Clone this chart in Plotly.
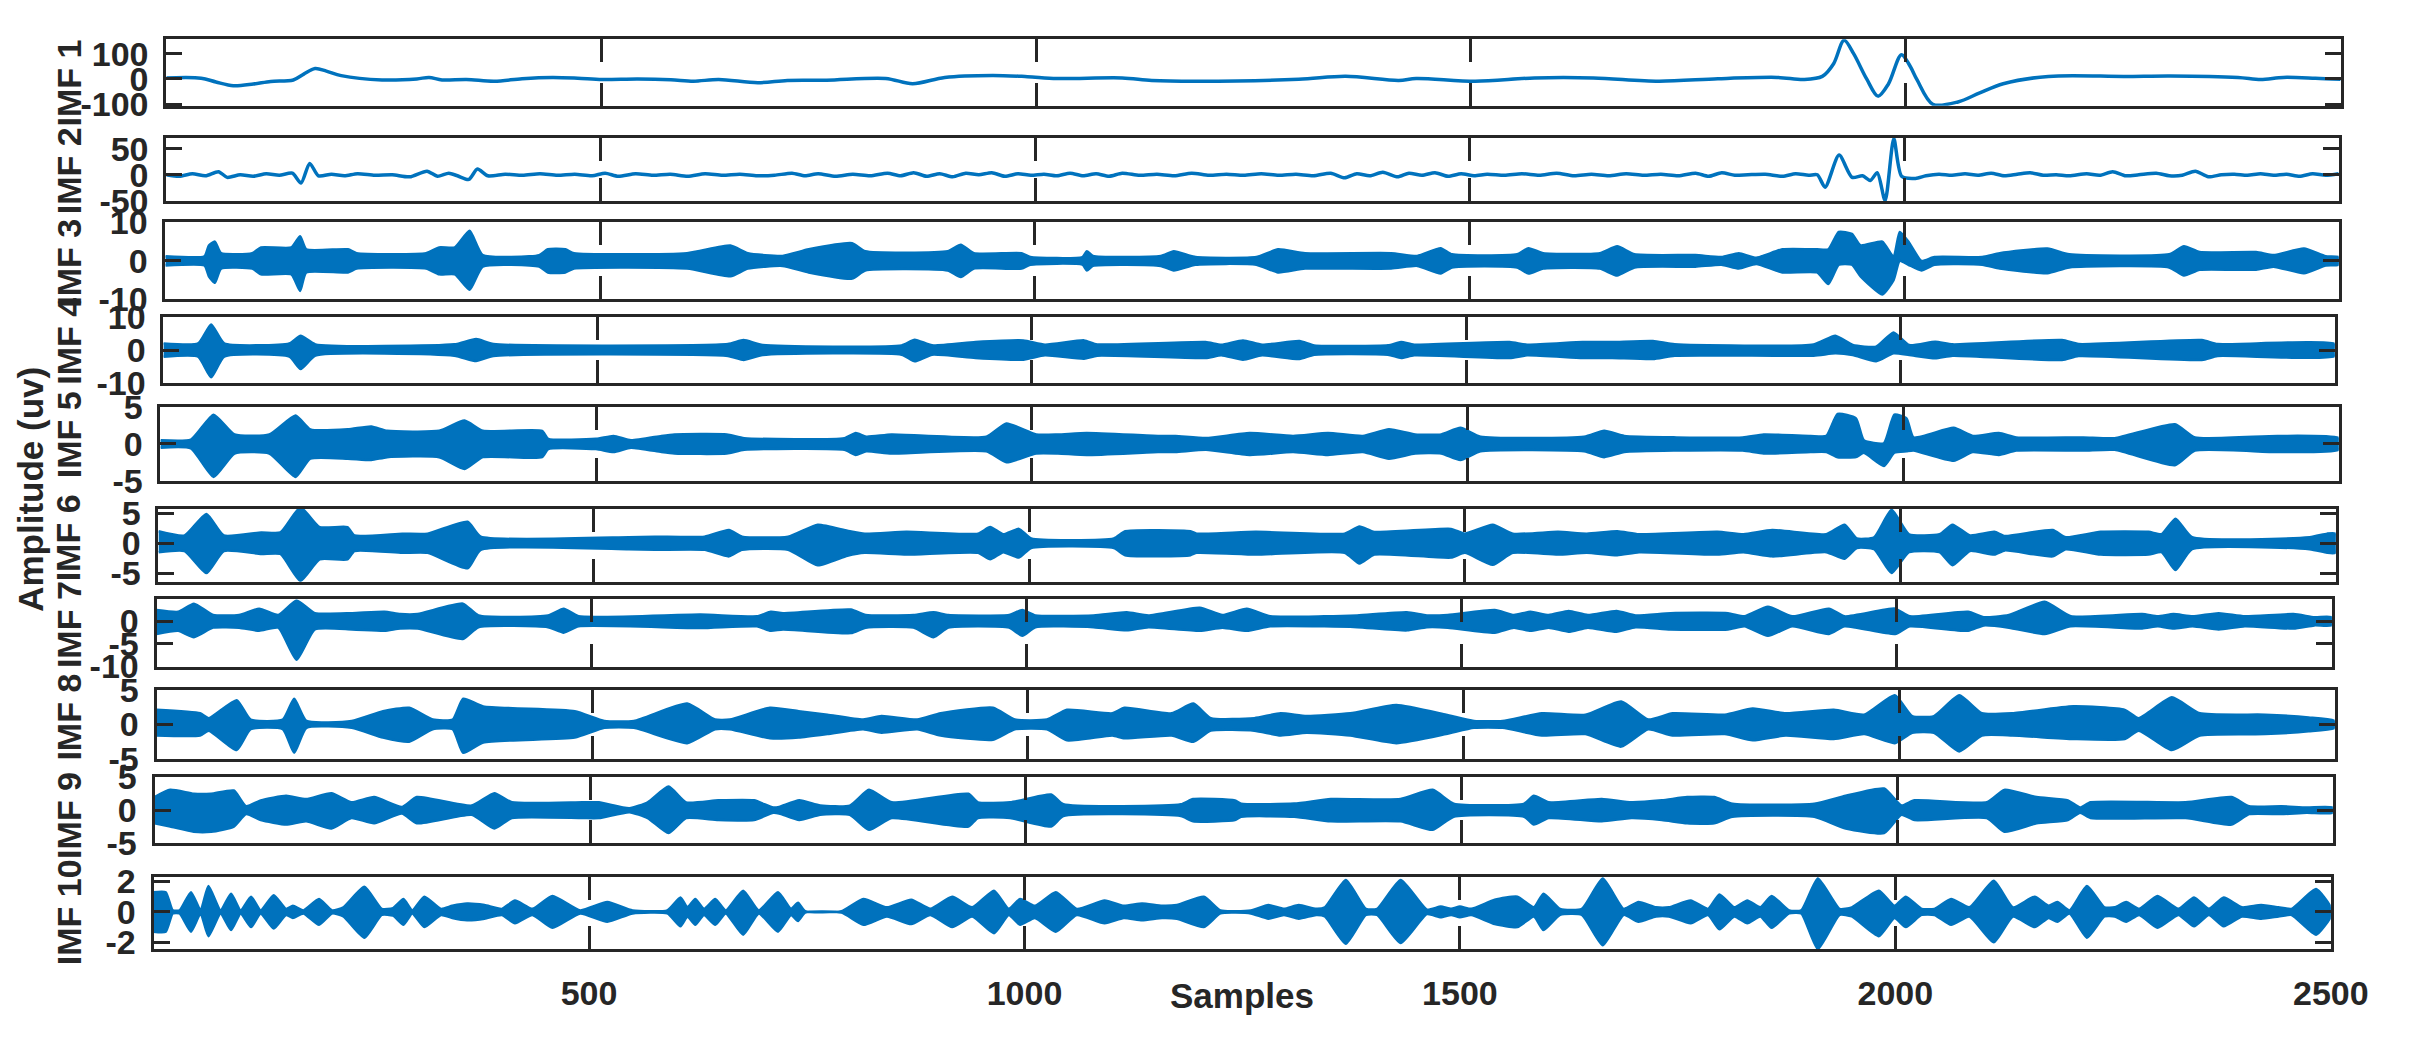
import plotly.graph_objects as go

# ---------------- data ----------------
imf1_s = [0, 40, 57, 77, 100, 120, 146, 158, 171, 184, 201, 248, 288, 302, 317, 345, 377, 409, 444, 473,
          501, 542, 580, 606, 635, 680, 714, 759, 827, 858, 895, 950, 990, 1024, 1099, 1133, 1187, 1302,
          1356, 1417, 1437, 1505, 1573, 1641, 1716, 1784, 1852, 1883, 1904, 1917, 1929, 1940, 1955, 1968,
          1980, 1995, 2005, 2013, 2031, 2060, 2085, 2112, 2164, 2252, 2304, 2382, 2408, 2434, 2471, 2500]
imf1_v = [4, 3, -12, -27, -20, -10, -4, 19, 41, 31, 13, -4, 0, 6, -4, -2, -9, 1, 6, 3,
          -2, 0, -3, -9, -2, -15, -6, -5, 2, -19, 6, 14, 9, 2, 4, -6, -9, -1,
          11, -6, 2, -9, 4, 4, -9, 1, 6, -2, 10, 60, 153, 100, 0, -68,
          -20, 96, 50, -4, -100, -91, -55, -19, 10, 10, 12, 6, -2, 6, 3, -1]

imf2_s = [0, 15, 30, 45, 60, 70, 85, 100, 115, 130, 145, 155, 165, 175, 190, 205, 220, 240, 260, 280,
          300, 312, 325, 335, 348, 358, 370, 390, 410, 430, 450, 470, 490, 505, 520, 540, 560, 580, 600,
          620, 640, 660, 680, 700, 720, 735, 750, 770, 790, 810, 830, 845, 860, 875, 890, 905, 920, 935,
          950, 965, 980, 995, 1010, 1025, 1040, 1055, 1070, 1085, 1100, 1120, 1140, 1160, 1180, 1200, 1220,
          1240, 1260, 1280, 1300, 1320, 1340, 1356, 1370, 1385, 1400, 1417, 1430, 1445, 1460, 1475, 1490,
          1505, 1520, 1540, 1560, 1580, 1600, 1620, 1640, 1660, 1680, 1700, 1720, 1740, 1760, 1775, 1790,
          1805, 1820, 1840, 1860, 1875, 1890, 1900, 1909, 1925, 1940, 1952, 1961, 1969, 1978, 1988, 1997,
          2013, 2025, 2040, 2055, 2070, 2085, 2100, 2115, 2130, 2145, 2160, 2175, 2190, 2210, 2225, 2240,
          2255, 2270, 2290, 2305, 2320, 2335, 2350, 2365, 2380, 2395, 2410, 2425, 2440, 2455, 2470, 2485, 2500]
imf2_v = [0, -3, 2, -2, 6, -5, 0, -3, 2, -1, 3, -16, 22, -2, 1, -2, 2, -1, 0, -4,
          7, -3, 3, -2, -9, 11, -2, 1, -1, 2, -1, 1, -2, 3, -3, 2, -1, 1, -3,
          2, -1, 1, -2, -1, 3, -2, 2, -3, 1, -2, 3, -2, 4, -3, 2, -4, 3, 0,
          4, -3, 2, -1, 1, -2, 3, -2, 2, -3, 3, -1, 1, -2, 3, -1, 1,
          -1, 2, -1, 1, -2, 3, -6, 2, -2, 5, -4, 3, -1, 4, -3, 2,
          -2, 1, -1, 2, -1, 3, -2, 1, -2, 2, -1, 1, -2, 3, -3, 4,
          -1, 0, 1, -3, 2, -1, 0, -24, 38, -5, -2, -11, 4, -50, 70, -3,
          -7, -2, 1, -1, 2, -1, 3, -2, 1, 4, -1, 0, -2, 2, -1, 6,
          -2, 0, 3, -2, -1, 7, -4, 0, 1, -1, 2, -1, 1, -3, 2, -1, 2]

imf3_s = [0, 45, 50, 57, 64, 100, 110, 145, 155, 162, 210, 220, 300, 315, 333, 350, 365, 430, 440, 460,
          470, 600, 650, 670, 710, 740, 790, 805, 900, 915, 930, 985, 995, 1055, 1060, 1067, 1145, 1160,
          1185, 1255, 1280, 1311, 1410, 1440, 1467, 1480, 1555, 1568, 1585, 1650, 1670, 1690, 1760, 1790,
          1810, 1830, 1860, 1900, 1913, 1925, 1940, 1950, 1975, 1988, 1995, 2005, 2020, 2035, 2090, 2110,
          2165, 2190, 2305, 2322, 2340, 2405, 2425, 2460, 2485, 2500]
imf3_hi = [1.2, 1.2, 4, 5, 2, 2, 3.5, 3.5, 6.4, 3, 3, 2, 2, 3.5, 3.5, 7.8, 1.5, 1.5, 3, 3,
           2, 2, 4, 2, 1.3, 3, 4.6, 2.5, 2.5, 4.2, 2, 2, 1, 1, 2.5, 1.3, 1.3, 2.5,
           1, 1, 3, 2, 2, 1.3, 3.3, 1.7, 1.7, 3.3, 2, 2, 3.8, 1.7, 1.5, 1,
           2, 0.8, 3, 3, 3, 7.5, 7, 4, 5, 1, 7.5, 5, 0, 1, 1, 2,
           3.2, 1.7, 1.7, 3.8, 2.3, 2.3, 1.5, 3.2, 1.2, 1]
imf3_lo = [-1.2, -1.2, -4, -5.7, -2, -2, -3.5, -3.5, -7.8, -3, -3, -2, -2, -3.5, -3.5, -7.5, -1.5, -1.5, -3, -3,
           -2, -2, -4, -2, -1.3, -3, -4.6, -2.5, -2.5, -4.2, -2, -2, -1, -1, -2.5, -1.3, -1.3, -2.5,
           -1, -1, -3, -2, -2, -1.3, -3.3, -1.7, -1.7, -3.3, -2, -2, -3.8, -1.7, -1.5, -1,
           -2, -0.8, -3, -3, -6, -1, -1, -4, -8.7, -5, 0, -1, -2.5, -1, -1, -2,
           -3.2, -1.7, -1.7, -3.8, -2.3, -2.3, -1.5, -3.2, -1.2, -1]

imf4_s = [0, 40, 55, 70, 145, 158, 175, 335, 360, 380, 650, 668, 690, 850, 865, 885, 935, 990, 1015, 1060,
          1075, 1200, 1218, 1243, 1265, 1308, 1325, 1410, 1425, 1440, 1550, 1570, 1634, 1668, 1715, 1740,
          1900, 1925, 1945, 1972, 1992, 2010, 2040, 2060, 2186, 2205, 2347, 2365, 2500]
imf4_hi = [2, 2, 7.7, 2, 2, 4.3, 1.7, 1.7, 3.3, 1.8, 1.8, 3, 1.5, 1.4, 3.1, 1.4, 2.4, 2.9, 1.6, 2.9,
           1.7, 2.4, 1.6, 2.9, 1.6, 2.7, 1.4, 1.4, 2.4, 1.6, 2.4, 1.6, 2.4, 2.4, 2.7, 1.7,
           1.7, 4.3, 1.5, 1, 5.3, 1.5, 2.5, 1.7, 3, 1.8, 3, 1.8, 1.8]
imf4_lo = [-2, -2, -8.2, -2, -2, -5.7, -1.7, -1.7, -3.3, -1.8, -1.8, -3, -1.5, -1.4, -3.4, -1.4, -2.4, -2.9, -1.6, -2.6,
           -1.7, -2.4, -1.6, -2.9, -1.6, -2.7, -1.4, -1.4, -2.4, -1.6, -2.4, -1.6, -2.4, -2.4, -2.7, -1.7,
           -1.7, -1.0, -1.5, -3.4, -1, -1.5, -2.5, -1.7, -3, -1.8, -3, -1.8, -1.8]

imf5_s = [0, 35, 61, 85, 125, 155, 172, 215, 242, 260, 320, 349, 370, 438, 445, 500, 520, 540, 575, 590,
          650, 670, 785, 798, 810, 839, 948, 971, 1005, 1030, 1063, 1145, 1165, 1200, 1250, 1300, 1340,
          1380, 1410, 1440, 1470, 1492, 1515, 1634, 1657, 1680, 1740, 1816, 1840, 1894, 1912, 1925, 1946,
          1955, 1978, 1990, 2004, 2012, 2058, 2080, 2110, 2130, 2207, 2243, 2312, 2335, 2430, 2500]
imf5_hi = [0.5, 0.6, 4.0, 1.3, 1.3, 3.9, 2, 2, 2.4, 1.8, 1.8, 3.2, 1.8, 1.8, 0.7, 0.7, 1.1, 0.5, 1.1, 1.3,
           1.3, 0.8, 0.8, 1.5, 1.0, 1.3, 1.0, 2.8, 1.3, 1.3, 1.5, 1.1, 1.1, 0.8, 1.5, 1.1, 1.5,
           1.1, 2.0, 1.3, 1.3, 2.2, 1.0, 1.0, 1.8, 1.1, 0.9, 0.9, 1.3, 1.1, 1.1, 4.1, 3.5,
           0.5, 0.1, 4.0, 3.5, 0.9, 2.2, 1.1, 1.5, 0.9, 0.9, 0.8, 2.7, 0.9, 1.1, 0.8]
imf5_lo = [-0.5, -0.6, -4.5, -1.3, -1.3, -4.5, -2, -2, -2.2, -1.8, -1.8, -3.4, -1.8, -1.8, -0.7, -0.7, -1.1, -0.5, -1.1, -1.3,
           -1.3, -0.8, -0.8, -1.5, -1.0, -1.3, -1.0, -2.5, -1.3, -1.3, -1.5, -1.1, -1.1, -0.8, -1.5, -1.1, -1.5,
           -1.1, -2.0, -1.3, -1.3, -2.2, -1.0, -1.0, -1.8, -1.1, -0.9, -0.9, -1.3, -1.1, -1.1, -1.8, -1.8,
           -1.2, -3.0, -1.2, -1.0, -0.9, -2.3, -1.1, -1.5, -0.9, -0.9, -0.8, -2.9, -0.9, -1.1, -0.8]

imf6_s = [0, 30, 55, 75, 118, 140, 163, 185, 217, 225, 280, 309, 355, 370, 540, 570, 627, 655, 670, 723,
          757, 791, 811, 859, 941, 955, 970, 988, 1002, 1097, 1110, 1185, 1192, 1260, 1362, 1379, 1396,
          1484, 1500, 1532, 1555, 1607, 1640, 1675, 1700, 1790, 1820, 1853, 1915, 1936, 1950, 1970, 1990,
          2010, 2045, 2060, 2080, 2108, 2120, 2175, 2190, 2230, 2285, 2300, 2316, 2335, 2470, 2490, 2500]
imf6_hi = [2.0, 1.3, 4.9, 1.3, 1.8, 1.8, 6.0, 2.7, 2.7, 1.3, 1.6, 1.6, 3.6, 1.1, 1.0, 1.1, 1.1, 2.2, 1.1, 1.1,
           3.1, 2.1, 1.6, 1.9, 1.6, 2.7, 1.5, 2.4, 0.8, 0.8, 2.0, 2.0, 1.6, 1.9, 1.6, 2.8, 1.9,
           2.4, 1.6, 3.1, 1.6, 1.9, 1.6, 2.0, 1.5, 1.9, 1.5, 2.2, 1.5, 3.1, 0.8, 1.0, 5.6,
           1.5, 1.5, 3.1, 1.3, 1.9, 1.2, 2.2, 1.0, 1.9, 1.9, 1.5, 4.1, 1.0, 1.0, 1.6, 1.6]
imf6_lo = [-1.5, -1.3, -5.0, -1.3, -1.8, -1.8, -6.3, -2.7, -2.7, -1.3, -1.6, -1.6, -4.2, -1.1, -1.0, -1.1, -1.1, -2.2, -1.1, -1.1,
           -3.7, -2.1, -1.6, -1.9, -1.6, -2.7, -1.5, -2.4, -0.8, -0.8, -2.0, -2.0, -1.6, -1.9, -1.6, -3.4, -1.9,
           -2.4, -1.6, -3.6, -1.6, -1.9, -1.6, -2.0, -1.5, -1.9, -1.5, -2.2, -1.5, -2.6, -0.8, -1.0, -5.0,
           -1.5, -1.5, -3.7, -1.3, -1.9, -1.2, -2.2, -1.0, -1.9, -1.9, -1.5, -4.5, -1.0, -1.0, -1.6, -1.6]

imf7_s = [0, 25, 43, 65, 95, 118, 140, 161, 182, 225, 262, 280, 300, 352, 370, 450, 468, 485, 625, 690,
          706, 720, 798, 815, 870, 893, 910, 980, 995, 1010, 1077, 1115, 1140, 1199, 1225, 1253, 1280,
          1342, 1380, 1437, 1460, 1484, 1538, 1560, 1579, 1600, 1623, 1645, 1678, 1700, 1740, 1806, 1825,
          1852, 1880, 1922, 1940, 1998, 2015, 2082, 2100, 2129, 2170, 2200, 2282, 2300, 2318, 2340, 2370,
          2400, 2456, 2480, 2500]
imf7_hi = [2.5, 2.1, 3.9, 1.4, 1.4, 2.8, 1.4, 4.6, 1.8, 1.8, 2.1, 1.6, 1.6, 3.9, 1.3, 1.3, 2.8, 1.1, 1.5, 1.1,
           2.1, 1.8, 2.6, 1.4, 1.4, 2.0, 1.4, 1.4, 2.5, 1.3, 1.3, 2.0, 1.3, 3.0, 1.4, 2.8, 1.1,
           1.1, 1.3, 2.0, 1.3, 1.4, 2.5, 1.4, 2.1, 1.4, 2.3, 1.4, 2.3, 1.3, 1.8, 1.8, 1.1,
           3.2, 1.1, 2.8, 1.1, 2.8, 1.1, 2.1, 0.9, 1.4, 4.3, 1.1, 1.6, 1.1, 1.6, 1.1, 1.8,
           1.1, 1.6, 0.9, 0.9]
imf7_lo = [-2.8, -2.1, -3.5, -1.4, -1.4, -2.1, -1.4, -8.5, -1.8, -1.8, -2.1, -1.6, -1.6, -3.9, -1.3, -1.3, -2.5, -1.1, -1.5, -1.1,
           -2.1, -1.8, -2.6, -1.4, -1.4, -3.5, -1.4, -1.4, -3.2, -1.3, -1.3, -2.0, -1.3, -2.1, -1.4, -2.1, -1.1,
           -1.1, -1.3, -2.0, -1.3, -1.4, -2.5, -1.4, -2.1, -1.4, -2.3, -1.4, -2.3, -1.3, -1.8, -1.8, -1.1,
           -3.2, -1.1, -2.8, -1.1, -2.8, -1.1, -2.1, -0.9, -1.4, -2.8, -1.1, -1.6, -1.1, -1.6, -1.1, -1.8,
           -1.1, -1.6, -0.9, -0.9]

imf8_s = [0, 50, 60, 92, 108, 145, 158, 172, 224, 260, 290, 317, 340, 352, 375, 480, 514, 548, 609, 641,
          658, 704, 737, 770, 811, 832, 873, 900, 960, 985, 1022, 1045, 1097, 1111, 1165, 1190, 1210,
          1260, 1290, 1320, 1370, 1423, 1480, 1512, 1545, 1590, 1640, 1681, 1712, 1740, 1800, 1832, 1870,
          1925, 1960, 1995, 2015, 2040, 2069, 2095, 2130, 2200, 2259, 2275, 2313, 2345, 2420, 2470, 2500]
imf8_hi = [2.1, 1.6, 0.9, 3.5, 0.7, 0.7, 3.7, 0.5, 0.5, 1.9, 2.4, 0.7, 0.7, 3.7, 2.6, 1.9, 0.5, 0.5, 3.0, 0.7,
           0.7, 2.4, 1.9, 1.4, 0.7, 1.2, 0.7, 1.6, 2.4, 0.7, 0.7, 2.1, 1.6, 2.4, 1.6, 3.0, 0.9,
           0.9, 1.6, 1.2, 1.6, 2.8, 1.4, 0.5, 0.5, 1.6, 1.4, 3.3, 0.7, 1.6, 1.4, 2.3, 1.6,
           2.1, 1.4, 4.2, 1.2, 1.2, 4.2, 1.6, 1.6, 2.6, 2.1, 0.9, 3.9, 1.6, 1.4, 1.0, 0.5]
imf8_lo = [-1.6, -1.6, -0.9, -3.7, -0.7, -0.7, -4.1, -0.5, -0.5, -1.9, -2.5, -0.7, -0.7, -4.1, -2.6, -1.9, -0.5, -0.5, -2.7, -0.7,
           -0.7, -2.0, -1.9, -1.4, -0.7, -1.2, -0.7, -1.6, -2.2, -0.7, -0.7, -2.3, -1.6, -2.0, -1.6, -2.5, -0.9,
           -0.9, -1.6, -1.2, -1.6, -2.7, -1.4, -0.5, -0.5, -1.6, -1.4, -3.2, -0.7, -1.6, -1.4, -2.3, -1.6,
           -2.1, -1.4, -2.7, -1.2, -1.2, -3.9, -1.6, -1.6, -2.1, -2.1, -0.9, -3.7, -1.6, -1.4, -1.0, -0.5]

imf9_s = [0, 18, 45, 65, 91, 105, 122, 151, 174, 203, 226, 252, 284, 301, 364, 390, 410, 491, 510, 545,
          566, 590, 610, 647, 688, 710, 717, 740, 764, 798, 820, 846, 934, 945, 982, 1029, 1043, 1178,
          1192, 1240, 1247, 1308, 1350, 1430, 1467, 1491, 1572, 1583, 1600, 1661, 1695, 1730, 1759, 1790,
          1811, 1905, 1941, 1985, 2005, 2020, 2103, 2123, 2160, 2196, 2210, 2222, 2331, 2384, 2404, 2441,
          2470, 2500]
imf9_hi = [2.0, 3.1, 2.5, 2.5, 3.0, 0.6, 1.5, 2.2, 1.7, 2.6, 1.2, 2.0, 0.5, 2.0, 0.7, 2.6, 1.2, 1.2, 1.2, 0.3,
           1.2, 3.6, 1.2, 1.5, 1.5, 0.4, 0.5, 1.5, 0.7, 0.7, 3.1, 1.2, 2.5, 1.2, 1.2, 2.4, 0.9, 0.9,
           1.7, 1.5, 1.0, 1.0, 1.7, 1.7, 3.1, 1.0, 1.0, 2.2, 1.2, 1.7, 1.2, 1.5, 2.0, 2.0,
           1.0, 1.0, 2.2, 3.3, 0.7, 1.5, 1.2, 3.1, 2.0, 1.5, 0.4, 1.2, 1.2, 2.0, 0.6, 0.6,
           0.4, 0.4]
imf9_lo = [-2.0, -2.5, -3.3, -3.3, -2.5, -0.6, -1.5, -2.2, -1.7, -2.8, -1.2, -2.0, -0.5, -2.0, -0.7, -2.8, -1.2, -1.2, -1.2, -0.3,
           -1.2, -3.5, -1.2, -1.5, -1.5, -0.4, -0.5, -1.5, -0.7, -0.7, -3.0, -1.2, -2.5, -1.2, -1.2, -2.5, -0.9, -0.9,
           -1.7, -1.5, -1.0, -1.0, -1.7, -1.7, -3.0, -1.0, -1.0, -2.2, -1.2, -1.7, -1.2, -1.5, -2.0, -2.0,
           -1.0, -1.0, -2.8, -3.5, -0.7, -1.5, -1.2, -3.3, -2.0, -1.5, -0.4, -1.2, -1.2, -2.2, -0.6, -0.6,
           -0.4, -0.4]

imf10_s = [0, 14, 22, 30, 43, 54, 63, 77, 89, 100, 112, 123, 138, 152, 160, 172, 190, 205, 218, 242,
           262, 275, 287, 297, 311, 330, 343, 360, 380, 400, 415, 435, 458, 490, 521, 550, 590, 605, 613,
           622, 632, 645, 657, 677, 695, 717, 732, 740, 748, 790, 815, 842, 870, 892, 917, 940, 965, 982,
           995, 1012, 1036, 1060, 1092, 1114, 1135, 1158, 1175, 1206, 1225, 1260, 1280, 1298, 1315, 1335,
           1345, 1369, 1392, 1405, 1432, 1462, 1478, 1490, 1500, 1513, 1540, 1566, 1585, 1596, 1615, 1640,
           1664, 1688, 1705, 1725, 1740, 1765, 1785, 1798, 1815, 1830, 1845, 1858, 1878, 1892, 1911, 1936,
           1950, 1981, 1999, 2012, 2030, 2045, 2064, 2085, 2113, 2135, 2160, 2176, 2186, 2200, 2220, 2240,
           2252, 2265, 2280, 2301, 2325, 2343, 2360, 2377, 2398, 2420, 2440, 2455, 2483, 2500]
imf10_hi = [1.3, 1.3, 0.1, 0.1, 1.3, 0.1, 1.7, 0.1, 1.2, 0.1, 1.0, 0.1, 1.1, 0.2, 0.4, 0.1, 0.85, 0.1, 0.3, 1.65,
            0.2, 0.25, 0.85, 0.1, 1.0, 0.2, 0.4, 0.55, 0.45, 0.2, 0.75, 0.2, 1.05, 0.1, 0.65, 0.1, 0.1, 0.95, 0.3,
            0.85, 0.2, 0.85, 0.1, 1.4, 0.1, 1.3, 0.2, 0.6, 0.05, 0.05, 0.85, 0.3, 0.8, 0.2, 1.0, 0.3, 1.4, 0.2,
            0.85, 0.4, 1.3, 0.2, 0.75, 0.4, 0.55, 0.4, 0.45, 1.0, 0.1, 0.1, 0.45, 0.2, 0.45, 0.2,
            0.3, 2.1, 0.2, 0.2, 2.1, 0.15, 0.35, 0.2, 0.35, 0.2, 0.8, 1.0, 0.3, 1.2, 0.2, 0.2,
            2.2, 0.2, 0.65, 0.3, 0.3, 0.75, 0.2, 1.15, 0.3, 0.75, 0.3, 1.05, 0.1, 0.1, 2.2, 0.2,
            0.3, 1.4, 0.4, 1.0, 0.2, 0.2, 0.85, 0.3, 2.05, 0.3, 1.0, 0.4, 0.65, 0.1, 1.7, 0.3,
            0.3, 0.65, 0.2, 1.05, 0.2, 0.95, 0.2, 0.95, 0.3, 0.45, 0.3, 0.2, 1.5, 0.3]
imf10_lo = [-1.3, -1.3, -0.1, -0.1, -1.3, -0.1, -1.6, -0.1, -1.2, -0.1, -1.0, -0.1, -1.1, -0.2, -0.4, -0.1, -0.85, -0.1, -0.3, -1.7,
            -0.2, -0.25, -0.85, -0.1, -1.0, -0.2, -0.4, -0.55, -0.45, -0.2, -0.75, -0.2, -1.05, -0.1, -0.65, -0.1, -0.1, -0.95, -0.3,
            -0.85, -0.2, -0.85, -0.1, -1.5, -0.1, -1.3, -0.2, -0.6, -0.05, -0.05, -0.85, -0.3, -0.8, -0.2, -1.0, -0.3, -1.4, -0.2,
            -0.85, -0.4, -1.3, -0.2, -0.75, -0.4, -0.55, -0.4, -0.45, -1.0, -0.1, -0.1, -0.45, -0.2, -0.45, -0.2,
            -0.3, -2.1, -0.2, -0.2, -2.05, -0.15, -0.35, -0.2, -0.35, -0.2, -0.8, -1.0, -0.3, -1.2, -0.2, -0.2,
            -2.2, -0.2, -0.65, -0.3, -0.3, -0.75, -0.2, -1.15, -0.3, -0.75, -0.3, -1.05, -0.1, -0.1, -2.45, -0.2,
            -0.3, -1.6, -0.4, -1.0, -0.2, -0.2, -0.85, -0.3, -2.0, -0.3, -1.0, -0.4, -0.65, -0.1, -1.7, -0.3,
            -0.3, -0.65, -0.2, -1.05, -0.2, -0.95, -0.2, -0.95, -0.3, -0.45, -0.3, -0.2, -1.5, -0.3]

imf_labels = ["IMF 1", "IMF 2", "IMF 3", "IMF 4", "IMF 5", "IMF 6", "IMF 7", "IMF 8", "IMF 9", "IMF 10"]
y_ranges = [[-106, 157], [-51, 72], [-10, 10], [-10, 10], [-5, 5], [-6.45, 5.8], [-10, 4.9], [-5, 5], [-5, 5], [-2.44, 2.32]]
y_ticks = [[-100, 0, 100], [-50, 0, 50], [-10, 0, 10], [-10, 0, 10], [-5, 0, 5], [-5, 0, 5], [-10, -5, 0],
           [-5, 0, 5], [-5, 0, 5], [-2, 0, 2]]
x_ticks = [500, 1000, 1500, 2000, 2500]
x_label = "Samples"
y_label = "Amplitude (uv)"

# ---------------- layout geometry (pixels) ----------------
W, H = 2420, 1046
boxes = [(169, 2378, 21, 90), (169, 2376, 123, 189), (168, 2376, 211, 291), (166, 2372, 309, 378),
         (163, 2376, 403, 479), (161, 2373, 508, 584), (159, 2369, 602, 672), (159, 2372, 696, 768),
         (157, 2370, 787, 855), (156, 2368, 890, 965)]
label_y = [66, 157, 252, 334, 431, 538, 628, 724, 826, 927]

BLUE = "#0072BD"
DARK = "#262626"
FONT = "Liberation Sans"

fig = go.Figure()


def ax(k, base):
    return base if k == 1 else f"{base}{k}"


fig.add_trace(go.Scatter(x=imf1_s, y=imf1_v, mode="lines", xaxis="x", yaxis="y",
                         line=dict(color=BLUE, width=3.5, shape="spline", smoothing=0.9), hoverinfo="skip"))
fig.add_trace(go.Scatter(x=imf2_s, y=imf2_v, mode="lines", xaxis="x2", yaxis="y2",
                         line=dict(color=BLUE, width=3.5, shape="spline", smoothing=0.7), hoverinfo="skip"))

bands = [(imf3_s, imf3_hi, imf3_lo), (imf4_s, imf4_hi, imf4_lo), (imf5_s, imf5_hi, imf5_lo),
         (imf6_s, imf6_hi, imf6_lo), (imf7_s, imf7_hi, imf7_lo), (imf8_s, imf8_hi, imf8_lo),
         (imf9_s, imf9_hi, imf9_lo), (imf10_s, imf10_hi, imf10_lo)]
for i, (s, hi, lo) in enumerate(bands):
    k = i + 3
    xs = list(s) + list(s)[::-1]
    ys = list(hi) + list(lo)[::-1]
    fig.add_trace(go.Scatter(x=xs, y=ys, mode="lines", fill="toself", fillcolor=BLUE,
                             xaxis=ax(k, "x"), yaxis=ax(k, "y"),
                             line=dict(color=BLUE, width=2.5, shape="spline", smoothing=0.5),
                             hoverinfo="skip"))

layout = dict(width=W, height=H, margin=dict(l=0, r=0, t=0, b=0), showlegend=False,
              paper_bgcolor="white", plot_bgcolor="white",
              font=dict(family=FONT, size=34, color=DARK, weight="bold"))
tickfont = dict(family=FONT, size=34, color=DARK, weight="bold")
for k in range(1, 11):
    l, r, t, b = boxes[k - 1]
    xkey = "xaxis" if k == 1 else f"xaxis{k}"
    ykey = "yaxis" if k == 1 else f"yaxis{k}"
    layout[xkey] = dict(domain=[l / W, r / W], anchor=ax(k, "y"), range=[0, 2500],
                        tickvals=x_ticks, ticktext=[str(v) for v in x_ticks],
                        showticklabels=(k == 10), ticks="inside", ticklen=23, tickwidth=3,
                        tickcolor=DARK, showline=True, linewidth=3, linecolor=DARK,
                        mirror="ticks", showgrid=False, zeroline=False, tickfont=tickfont,
                        ticklabelstandoff=12, fixedrange=True)
    layout[ykey] = dict(domain=[1 - b / H, 1 - t / H], anchor=ax(k, "x"), range=y_ranges[k - 1],
                        tickvals=y_ticks[k - 1], ticktext=[str(v) for v in y_ticks[k - 1]],
                        ticks="inside", ticklen=16, tickwidth=3, tickcolor=DARK,
                        showline=True, linewidth=3, linecolor=DARK, mirror="ticks",
                        showgrid=False, zeroline=False, tickfont=tickfont,
                        ticklabelstandoff=8, fixedrange=True)
fig.update_layout(**layout)

annotations = []
for k in range(10):
    annotations.append(dict(text=imf_labels[k], x=70 / W, y=1 - label_y[k] / H, xref="paper", yref="paper",
                            textangle=-90, showarrow=False, xanchor="center", yanchor="middle",
                            font=dict(family=FONT, size=34, color=DARK, weight="bold")))
annotations.append(dict(text=y_label, x=31 / W, y=1 - 488 / H, xref="paper", yref="paper",
                        textangle=-90, showarrow=False, xanchor="center", yanchor="middle",
                        font=dict(family=FONT, size=35, color=DARK, weight="bold")))
annotations.append(dict(text=x_label, x=1262 / W, y=1 - 1013 / H, xref="paper", yref="paper",
                        showarrow=False, xanchor="center", yanchor="middle",
                        font=dict(family=FONT, size=35, color=DARK, weight="bold")))
fig.update_layout(annotations=annotations)

fig.write_html("out.html", config={"displayModeBar": False},
               post_script="document.body.style.margin='0';document.body.style.overflow='hidden';")
